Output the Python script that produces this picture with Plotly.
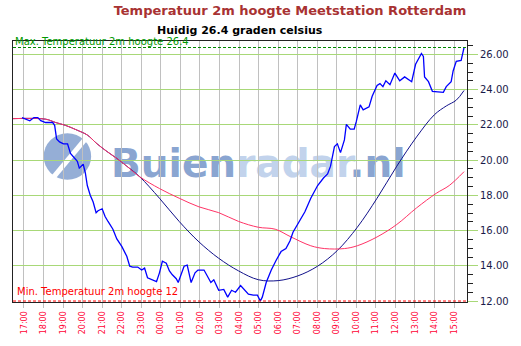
import plotly.graph_objects as go

# hours relative to 17:00 (day 1) ; temperatures in deg C
act_h = [-0.10, 0.10, 0.30, 0.51, 0.71, 0.86, 1.11, 1.47, 1.57, 1.67, 1.82, 2.02, 2.23, 2.38, 2.53,
         2.73, 2.83, 3.03, 3.14, 3.24, 3.39, 3.54, 3.69, 3.79, 4.00, 4.15, 4.30, 4.55, 4.75, 5.01,
         5.26, 5.41, 5.56, 5.82, 6.02, 6.17, 6.32, 6.58, 6.78, 6.93, 7.08, 7.28, 7.44, 7.59, 7.79,
         7.89, 8.04, 8.19, 8.35, 8.55, 8.75, 8.90, 9.21, 9.36, 9.56, 9.71, 9.96, 10.22, 10.42, 10.62,
         10.82, 11.08, 11.33, 11.48, 11.73, 11.94, 12.09, 12.19, 12.39, 12.65, 12.90, 13.15, 13.40,
         13.61, 13.76, 14.01, 14.37, 14.67, 15.02, 15.33, 15.53, 15.68, 15.88, 16.03, 16.19, 16.39,
         16.49, 16.69, 16.89, 17.00, 17.20, 17.35, 17.65, 17.81, 18.06, 18.21, 18.36, 18.51, 18.72,
         18.97, 19.22, 19.47, 19.83, 20.03, 20.33, 20.43, 20.49, 20.69, 20.89, 21.45, 21.60, 21.85,
         21.95, 22.11, 22.36, 22.51]
act_t = [22.42, 22.33, 22.24, 22.42, 22.42, 22.25, 22.14, 22.14, 21.98, 21.21, 21.04, 20.93, 20.93, 20.38, 20.21,
         19.94, 19.55, 19.77, 19.28, 18.56, 18.01, 17.62, 17.02, 17.13, 17.24, 16.80, 16.52, 16.08, 15.53, 15.09,
         14.54, 13.98, 13.93, 13.93, 13.76, 13.87, 13.32, 13.21, 13.10, 13.60, 14.26, 14.15, 13.71, 13.49, 13.27,
         13.05, 13.49, 13.98, 14.04, 13.05, 13.60, 13.76, 13.76, 13.43, 13.05, 13.21, 12.61, 12.66, 12.22, 12.61,
         12.50, 12.88, 12.61, 12.39, 12.33, 12.33, 12.00, 12.22, 13.05, 13.76, 14.32, 14.81, 14.98,
         15.42, 15.91, 16.41, 17.07, 17.84, 18.56, 19.00, 19.22, 19.66, 20.77, 20.93, 20.43, 21.15,
         22.03, 21.76, 21.76, 22.20, 23.14, 22.86, 23.03, 23.63, 24.24, 24.35, 24.18, 24.51, 24.29,
         24.95, 24.51, 24.73, 24.46, 25.45, 26.06, 25.89, 24.73, 24.46, 23.91, 23.85, 24.18, 24.46,
         25.07, 25.62, 25.67, 26.40]

red_h = [-0.56, 1.11, 1.62, 2.12, 2.73, 3.24, 3.74, 4.25, 4.75, 5.26, 5.92, 6.93, 7.94, 8.95, 9.96,
         10.98, 11.99, 12.85, 13.66, 14.67, 15.38, 16.39, 17.05, 18.06, 19.07, 20.08, 21.09, 21.75, 22.51]
red_t = [22.36, 22.33, 22.14, 21.98, 21.70, 21.43, 20.93, 20.49, 20.10, 19.66, 19.06, 18.39, 17.84, 17.35, 17.02,
         16.52, 16.19, 16.08, 15.64, 15.14, 14.98, 14.98, 15.14, 15.64, 16.35, 17.29, 18.12, 18.56, 19.35]

navy_h = [-0.56, 1.11, 1.62, 2.12, 2.73, 3.24, 3.74, 4.25, 4.75, 5.26, 5.92, 6.93, 7.94, 8.95, 9.96,
          10.98, 11.99, 13.00, 14.01, 15.02, 16.03, 17.05, 18.06, 19.07, 20.08, 20.99, 21.60, 22.11, 22.51]
navy_t = [22.36, 22.33, 22.14, 21.98, 21.70, 21.43, 20.93, 20.49, 20.10, 19.66, 19.06, 17.84, 16.52, 15.36, 14.43,
          13.71, 13.21, 13.16, 13.43, 13.98, 14.87, 16.19, 17.84, 19.66, 21.32, 22.58, 23.08, 23.41, 23.96]

tick_hours = list(range(0, 23))
tick_labels = ["17:00", "18:00", "19:00", "20:00", "21:00", "22:00", "23:00", "00:00", "01:00", "02:00",
               "03:00", "04:00", "05:00", "06:00", "07:00", "08:00", "09:00", "10:00", "11:00", "12:00",
               "13:00", "14:00", "15:00"]
max_temp = 26.4
min_temp = 12

FONT = "DejaVu Sans"
X0, X1 = -0.56, 22.66
Y0, Y1 = 11.945, 26.77

fig = go.Figure()
fig.add_trace(go.Scatter(x=navy_h, y=navy_t, mode="lines", line=dict(color="#10108A", width=1),
                         line_shape="spline", hoverinfo="skip"))
fig.add_trace(go.Scatter(x=red_h, y=red_t, mode="lines", line=dict(color="#FF3366", width=1),
                         line_shape="spline", hoverinfo="skip"))
fig.add_trace(go.Scatter(x=act_h, y=act_t, mode="lines", line=dict(color="#0000FF", width=1.3),
                         hoverinfo="skip"))

# max/min dashed lines
fig.add_shape(type="line", xref="x", yref="y", x0=X0, x1=X1, y0=max_temp, y1=max_temp,
              line=dict(color="#008800", width=1, dash="3px,2px"))
fig.add_shape(type="line", xref="x", yref="y", x0=X0, x1=X1, y0=min_temp, y1=min_temp,
              line=dict(color="#FF0000", width=1, dash="3px,2px"))

# watermark
fig.add_shape(type="circle", xref="paper", yref="paper", layer="between",
              x0=(43 - 12) / 459, x1=(91 - 12) / 459, y0=(310 - 184) / 269, y1=(310 - 136) / 269,
              fillcolor="#8AA5D1", line=dict(width=0), opacity=0.9)
fig.add_shape(type="line", xref="paper", yref="paper", layer="between",
              x0=(50 - 12) / 459, x1=(95 - 12) / 459, y0=(310 - 185) / 269, y1=(310 - 130) / 269,
              line=dict(color="white", width=5))
fig.add_shape(type="rect", xref="paper", yref="paper", layer="between",
              x0=(105 - 12) / 459, x1=(415 - 12) / 459, y0=(310 - 192) / 269, y1=(310 - 136) / 269,
              line=dict(width=0), fillcolor="rgba(0,0,0,0)",
              label=dict(text="<span style='color:#8AA5D1'>Buien</span><span style='color:#C2D3EC'>radar</span><span style='color:#8AA5D1'>.nl</span>",
                         font=dict(family=FONT, size=39, color="#8AA5D1", weight="bold"),
                         textposition="middle center"))

fig.add_annotation(xref="x", yref="y", x=X0 + 0.02, y=max_temp - 0.06, xanchor="left", yanchor="bottom",
                   text="Max. Temperatuur 2m hoogte 26.4", showarrow=False,
                   font=dict(family=FONT, size=10, color="#009900"))
fig.add_annotation(xref="x", yref="y", x=X0 + 0.1, y=min_temp + 0.1, xanchor="left", yanchor="bottom",
                   text="Min. Temperatuur 2m hoogte 12", showarrow=False,
                   font=dict(family=FONT, size=10, color="#FF0000"))
fig.add_annotation(xref="paper", yref="paper", x=(241 - 12) / 459, y=(310 - 30) / 269,
                   xanchor="center", yanchor="middle", text="<b>Huidig 26.4 graden celsius</b>",
                   showarrow=False, font=dict(family=FONT, size=11, color="black"))

fig.update_layout(
    width=521, height=346, margin=dict(l=12, r=50, t=41, b=36),
    paper_bgcolor="white", plot_bgcolor="white", showlegend=False,
    title=dict(text="<b>Temperatuur 2m hoogte Meetstation Rotterdam</b>", xref="container", yref="container",
               x=290 / 521, y=1 - 10 / 346, xanchor="center", yanchor="middle",
               font=dict(family=FONT, size=13, color="#A83232")),
    xaxis=dict(range=[X0, X1], tickvals=tick_hours, ticktext=tick_labels, tickangle=-90,
               showgrid=True, gridcolor="#C0C0C0", gridwidth=1, zeroline=False,
               ticks="outside", ticklen=5, tickcolor="#C0C0C0",
               tickfont=dict(family=FONT, size=8, color="#FF0033"),
               showline=True, linecolor="#222222", linewidth=1, mirror=True),
    yaxis=dict(range=[Y0, Y1], side="right", dtick=2, tick0=12, tickformat=".2f",
               showgrid=True, gridcolor="#A8D878", gridwidth=1, zeroline=False,
               ticks="outside", ticklen=10, tickcolor="#A8D878",
               tickfont=dict(family=FONT, size=10, color="#1A1A4A"),
               minor=dict(dtick=0.5, tick0=12, ticks="outside", ticklen=5, tickcolor="#222222", showgrid=False),
               showline=True, linecolor="#222222", linewidth=1, mirror=True),
)

fig.write_html("out.html")
